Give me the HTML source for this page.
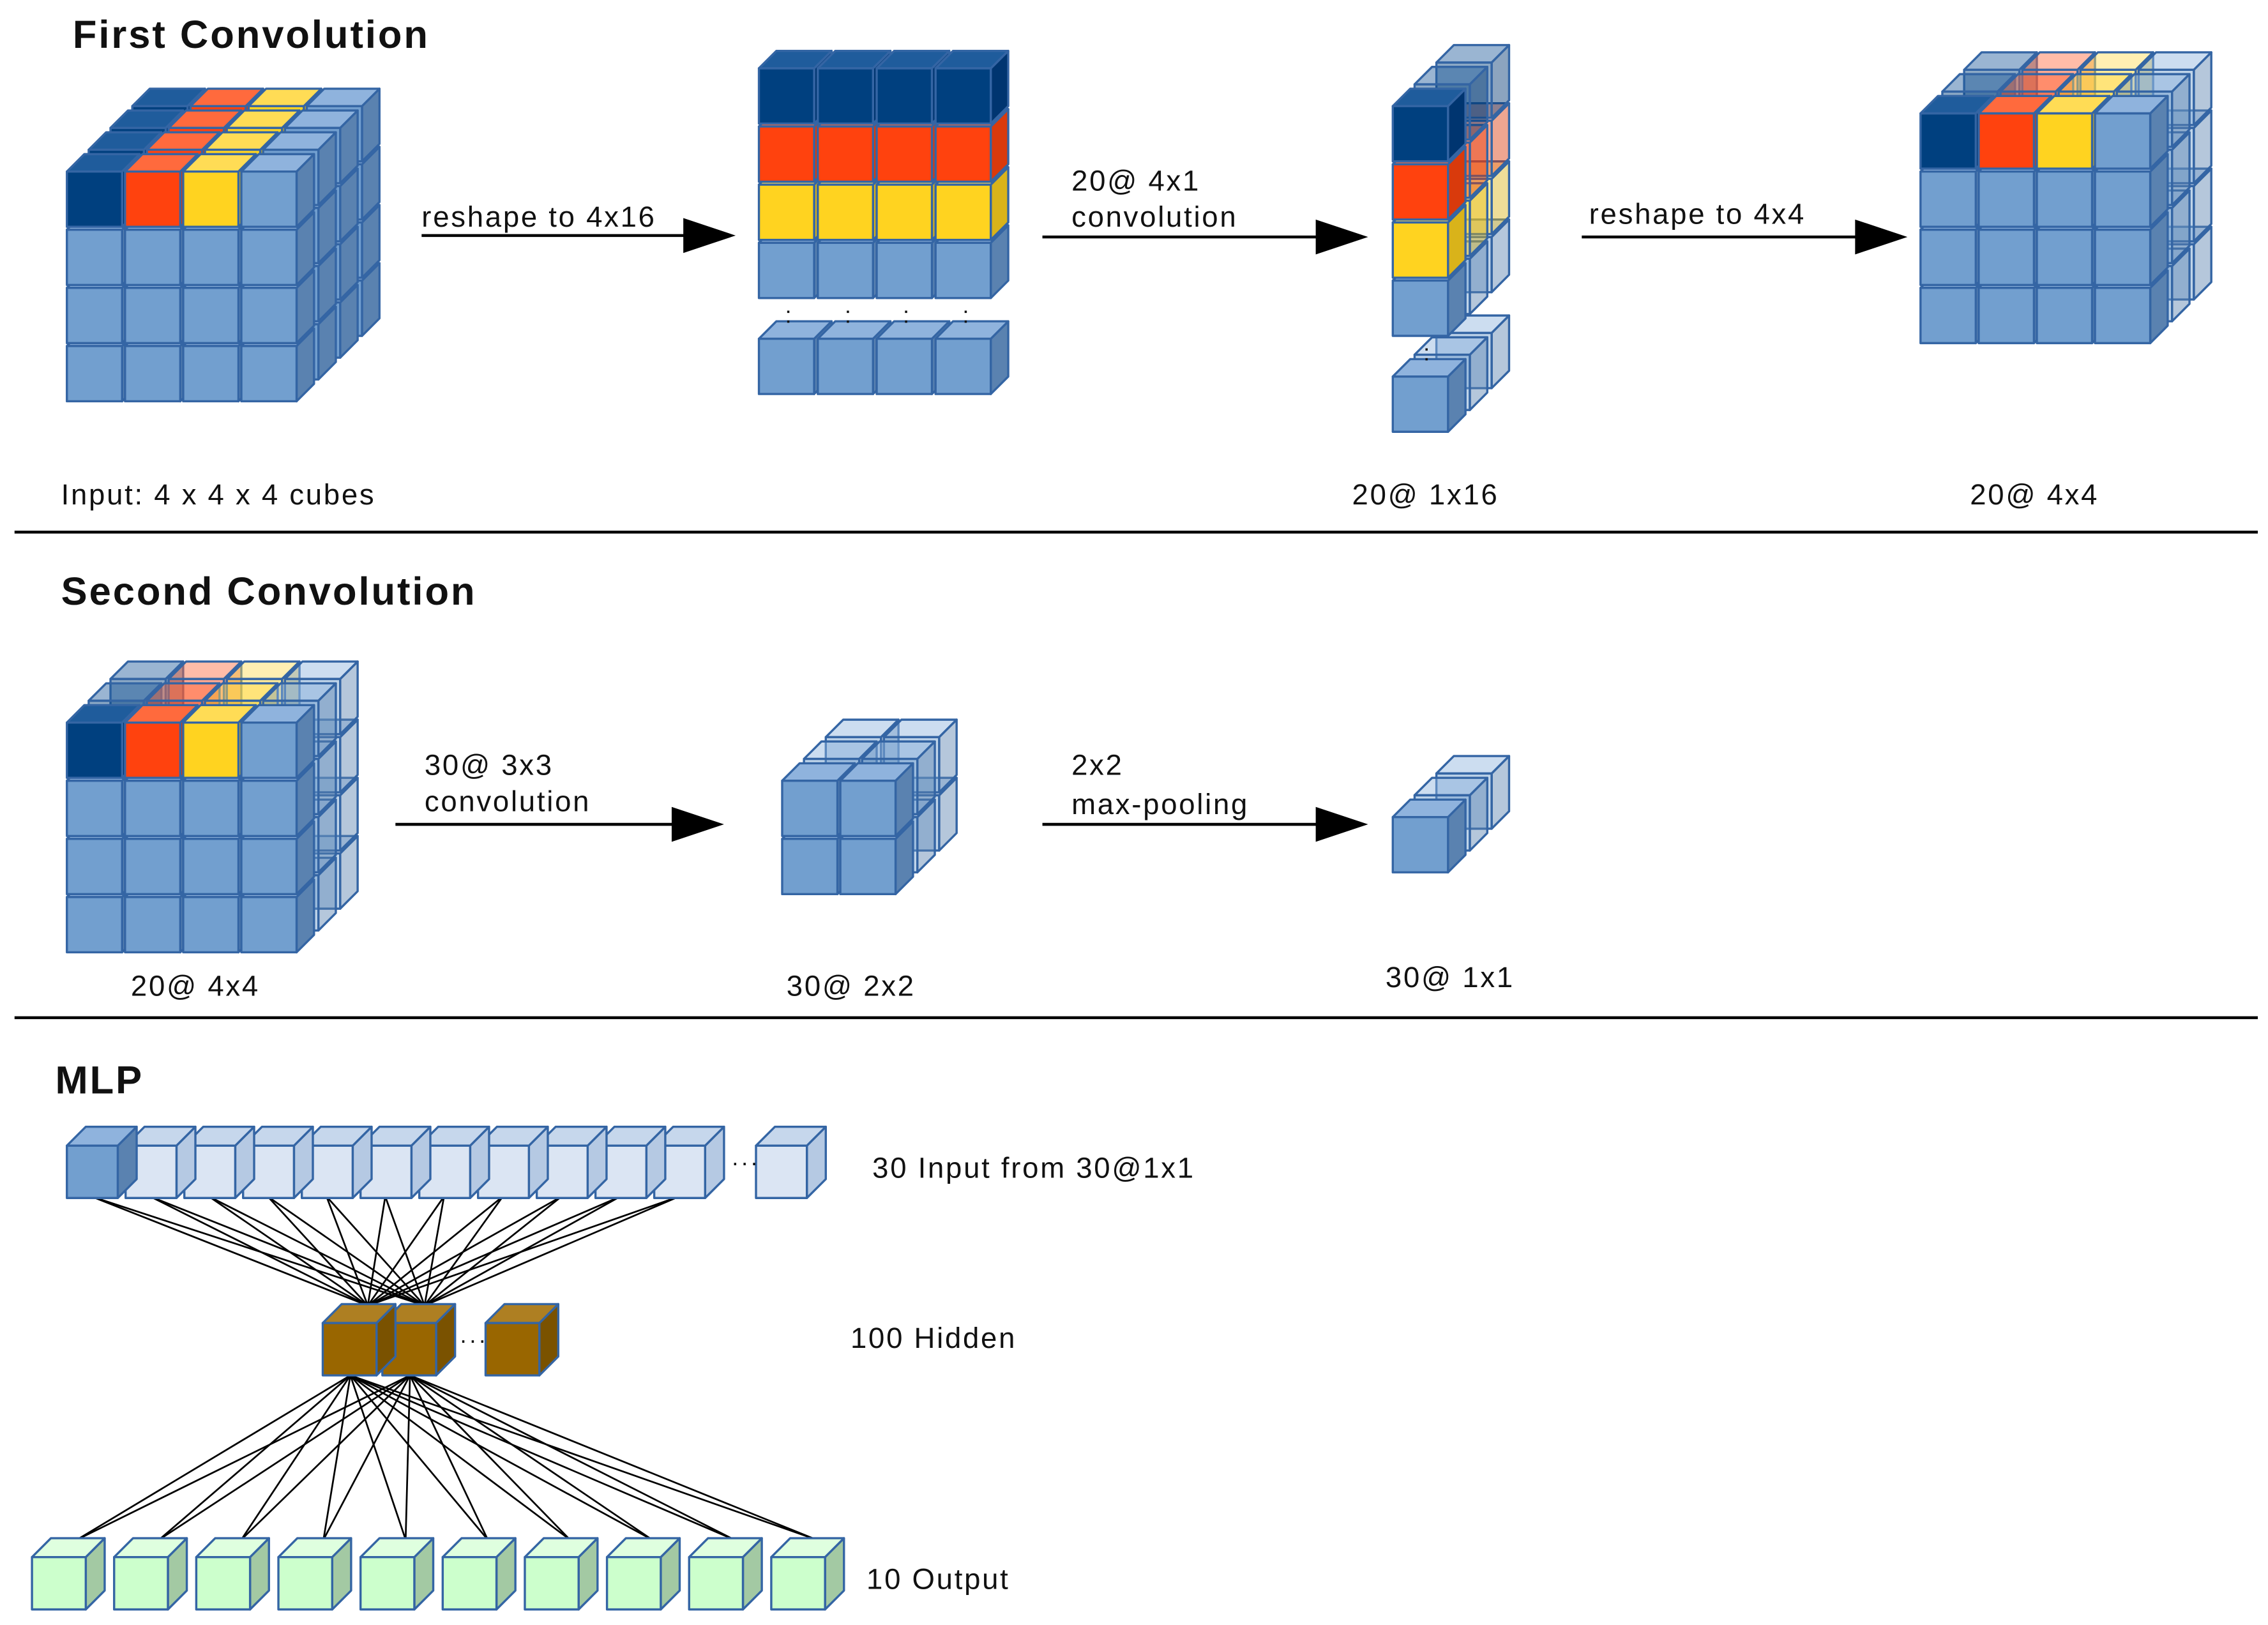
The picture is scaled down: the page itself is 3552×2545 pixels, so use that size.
<!DOCTYPE html>
<html><head><meta charset="utf-8">
<style>
html,body{margin:0;padding:0;background:#fff;}
svg{display:block;}
text{font-family:"Liberation Sans",sans-serif;fill:#111;}
.l{letter-spacing:1.2px;}
.t{letter-spacing:1.3px;}
</style></head>
<body>
<svg id="s" width="3552" height="2545" viewBox="0 0 1560 1117.7" preserveAspectRatio="none" xmlns="http://www.w3.org/2000/svg">
<rect width="1560" height="1118" fill="#fff"/>
<g id="g"></g>
<g font-size="20" class="l">
<text x="50" y="33" font-size="27" font-weight="bold" class="t">First Convolution</text>
<text x="42" y="347">Input: 4 x 4 x 4 cubes</text>
<text x="290" y="156">reshape to 4x16</text>
<text x="737" y="131">20@ 4x1</text>
<text x="737" y="156">convolution</text>
<text x="1093" y="154">reshape to 4x4</text>
<text x="930" y="347">20@ 1x16</text>
<text x="1355" y="347">20@ 4x4</text>
<text x="42" y="416" font-size="27" font-weight="bold" class="t">Second Convolution</text>
<text x="90" y="685">20@ 4x4</text>
<text x="292" y="533">30@ 3x3</text>
<text x="292" y="558">convolution</text>
<text x="541" y="685">30@ 2x2</text>
<text x="737" y="533">2x2</text>
<text x="737" y="560">max-pooling</text>
<text x="953" y="679">30@ 1x1</text>
<text x="38" y="752" font-size="27" font-weight="bold" class="t">MLP</text>
<text x="600" y="810">30 Input from 30@1x1</text>
<text x="585" y="927">100 Hidden</text>
<text x="596" y="1093">10 Output</text>
<text x="503" y="805" font-size="16">···</text>
<text x="316" y="927" font-size="16">···</text>
<text x="540" y="222" font-size="16">:</text>
<text x="581" y="222" font-size="16">:</text>
<text x="621" y="222" font-size="16">:</text>
<text x="662" y="222" font-size="16">:</text>
<text x="979" y="248" font-size="16">:</text>
</g>
<g stroke="#000" stroke-width="2">
<line x1="10" y1="366" x2="1553" y2="366"/>
<line x1="10" y1="700" x2="1553" y2="700"/>
<line x1="290" y1="162" x2="475" y2="162"/>
<line x1="717" y1="163" x2="910" y2="163"/>
<line x1="1088" y1="163" x2="1280" y2="163"/>
<line x1="272" y1="567" x2="467" y2="567"/>
<line x1="717" y1="567" x2="910" y2="567"/>
</g>
<g fill="#000">
<polygon points="470,150 506,162 470,174"/>
<polygon points="905,151 941,163 905,175"/>
<polygon points="1276,151 1312,163 1276,175"/>
<polygon points="462,555 498,567 462,579"/>
<polygon points="905,555 941,567 905,579"/>
</g>
</svg>
<script>
var g=document.getElementById('g');var NS='http://www.w3.org/2000/svg';
function el(t,a){var e=document.createElementNS(NS,t);for(var k in a)e.setAttribute(k,a[k]);g.appendChild(e);return e;}
var C={db:['#00407f','#1f5c9c','#003570'],or:['#ff420e','#ff6a3d','#d93a0c'],ye:['#ffd320','#ffdc55','#d9b31a'],bl:['#729fcf','#8fb3dd','#5a82b0'],
lt:['#dbe5f3','#c6d7ec','#b5c9e3'],br:['#996600','#ae7f22','#7a5200'],gr:['#ccffcc','#dfffdf','#a3c9a3']};
function cube(x,y,w,h,d,c,op,st){var f=C[c];op=op||1;st=st||'#3465a4';
var a={stroke:st,'stroke-width':1.5,'stroke-linejoin':'round'};
function p(pts,fill){var o={points:pts,fill:fill,'fill-opacity':op};for(var k in a)o[k]=a[k];el('polygon',o);}
p((x+w)+','+y+' '+(x+w+d)+','+(y-d)+' '+(x+w+d)+','+(y+h-d)+' '+(x+w)+','+(y+h),f[2]);
p(x+','+y+' '+(x+d)+','+(y-d)+' '+(x+w+d)+','+(y-d)+' '+(x+w)+','+y,f[1]);
p(x+','+y+' '+(x+w)+','+y+' '+(x+w)+','+(y+h)+' '+x+','+(y+h),f[0]);}
var top4=['db','or','ye','bl'];
function grid(x,y,cols,rows,pitch,w,d,layers,lo,allOpaque,colored){
 for(var L=layers-1;L>=0;L--){var ox=x+L*lo,oy=y-L*lo;var op=(L==0||allOpaque)?1:0.45;
  for(var r=rows-1;r>=0;r--)for(var c=0;c<cols;c++){var col='bl';if(colored&&r==0)col=top4[c%4];
   cube(ox+c*pitch,oy+r*pitch,w,w,d,col,op);}}}
grid(46,118,4,4,40,38,12,4,15,true,true);
for(var r=3;r>=0;r--)for(var c=0;c<4;c++)cube(522+c*40.5,47+r*40,38,38,12,top4[r],1);
for(var c=0;c<4;c++)cube(522+c*40.5,233,38,38,12,'bl',1);
(function(){for(var L=2;L>=1;L--){var ox=958+L*15,oy=-L*15;var op=0.45;
 for(var r=3;r>=0;r--)cube(ox,73+oy+r*40,38,38,12,top4[r],op);cube(ox,259+oy,38,38,12,'bl',op);}
 for(var r=3;r>=0;r--)cube(958,73+r*40,38,38,12,top4[r],1);cube(958,259,38,38,12,'bl',1);})();
grid(1321,78,4,4,40,38,12,3,15,false,true);
grid(46,497,4,4,40,38,12,3,15,false,true);
grid(538,537,2,2,40,38,12,3,15,false,false);
grid(958,562,1,1,40,38,12,3,15,false,false);
var ls={stroke:'#000','stroke-width':1.2};
var ix=[];for(var i=0;i<11;i++)ix.push(46+i*40.4);
var h1=[253,292];
for(var i=0;i<11;i++)for(var j=0;j<2;j++){var o={x1:ix[i]+17,y1:823,x2:h1[j],y2:898};for(var k in ls)o[k]=ls[k];el('line',o);}
var ox=[];for(var i=0;i<10;i++)ox.push(22+i*56.5);
var h2=[241,282];
for(var i=0;i<10;i++)for(var j=0;j<2;j++){var o={x1:h2[j],y1:946,x2:ox[i]+31,y2:1059};for(var k in ls)o[k]=ls[k];el('line',o);}
cube(520,788,35,36,13,'lt',1);
for(var i=10;i>=0;i--)cube(ix[i],788,35,36,13,i==0?'bl':'lt',1);
cube(334,910,37,36,13,'br',1);cube(263,910,37,36,13,'br',1);cube(222,910,37,36,13,'br',1);
for(var i=0;i<10;i++)cube(ox[i],1071,37,36,13,'gr',1);
</script>
</body></html>
